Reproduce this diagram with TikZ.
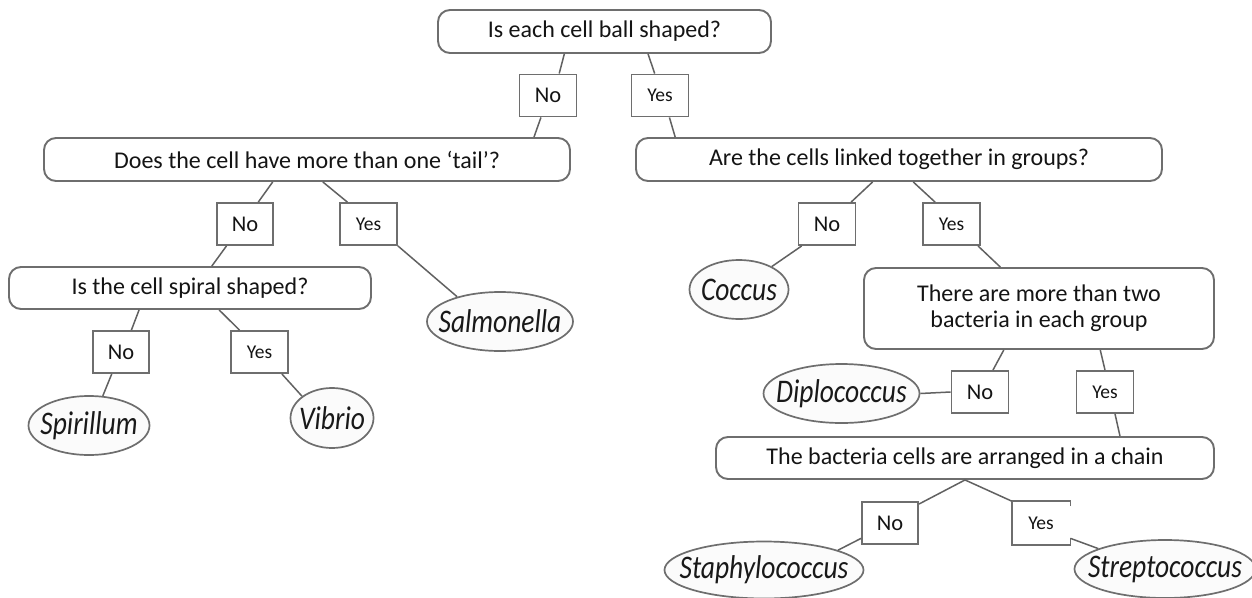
\documentclass[tikz,border=0pt]{standalone}
\usepackage{fontspec}
\setmainfont{Carlito}
\usetikzlibrary{shapes.geometric,calc}
\definecolor{edgegray}{HTML}{6E6E6E}
\definecolor{leaffill}{HTML}{FBFBFB}
\newcommand{\linkbb}[4]{\draw[conn] ($(#1.south west)!#2!(#1.south east)$) -- ($(#3.north west)!#4!(#3.north east)$);}
\newcommand{\tallit}[1]{\scalebox{1}[1.2]{#1}}
\begin{document}
\begin{tikzpicture}[x=1pt,y=-1pt,
  qbox/.style={draw=edgegray,line width=1.9pt,rounded corners=12pt,fill=white,inner sep=0pt,align=center,font=\fontsize{24}{26}\selectfont,text=black!92},
  ans/.style={draw=edgegray,line width=1.9pt,fill=white,inner sep=0pt,minimum width=57pt,minimum height=42pt,text=black!92},
  ansno/.style={ans,font=\fontsize{22.5}{24}\selectfont},
  ansyes/.style={ans,font=\fontsize{19.5}{21}\selectfont},
  leaf/.style={ellipse,draw=edgegray,line width=1.7pt,fill=leaffill,inner sep=0pt},
  leaftext/.style={inner sep=0pt,font=\fontsize{27.5}{30}\selectfont\itshape,text=black!90},
  conn/.style={draw=black!62,line width=1.5pt}]
\useasboundingbox (0,0) rectangle (1252,597);
\clip (0,0) rectangle (1252,597);
\fill[white] (0,0) rectangle (1252,597);

% question boxes
\node[qbox,minimum width=333pt,minimum height=43pt] (top) at (604.5,31.5) {Is each cell ball shaped?};
\node[qbox,minimum width=526pt,minimum height=43pt] (does) at (307,159.5) {Does the cell have more than one ‘tail’?};
\node[qbox,minimum width=526pt,minimum height=43pt] (are) at (899,159.5) {Are the cells linked together in groups?};
\node[qbox,minimum width=362pt,minimum height=42pt] (spiral) at (190,288) {Is the cell spiral shaped?};
\node[qbox,minimum width=350pt,minimum height=81pt] (groups) at (1039,308.5) {There are more than two\\bacteria in each group};
\node[qbox,minimum width=498pt,minimum height=42pt] (chain) at (965,458) {The bacteria cells are arranged in a chain};

% answer boxes
\node[ansno] (no1) at (548,95.5) {No};
\node[ansyes] (yes1) at (660,95.5) {Yes};
\node[ansno,minimum width=56pt] (no2) at (245,224) {No};
\node[ansyes] (yes2) at (368.5,224) {Yes};
\node[ansno,minimum width=56pt] (no3) at (121,352) {No};
\node[ansyes] (yes3) at (259.5,352) {Yes};
\node[ansno] (no4) at (827,224) {No};
\node[ansyes] (yes4) at (951.5,224) {Yes};
\node[ansno] (no5) at (980,392) {No};
\node[ansyes] (yes5) at (1105,392) {Yes};
\node[ansno,minimum width=56pt] (no6) at (890,523) {No};
\node[ansyes,draw=none] (yes6) at (1041,523) {Yes};
\draw[draw=edgegray,line width=1.9pt] ($(yes6.north east)+(0,5)$) -- (yes6.north east) -- (yes6.north west) -- (yes6.south west) -- (yes6.south east) -- ++(0,-7);

% leaves (ellipse drawn tight round its label)
\node[leaf,minimum width=146pt,minimum height=59pt,label={[leaftext]center:\tallit{Salmonella}}] (salm) at (500,321.5) {};
\node[leaf,minimum width=121pt,minimum height=59pt,label={[leaftext]center:\tallit{Spirillum}}] (spir) at (89,425.5) {};
\node[leaf,minimum width=83pt,minimum height=60pt,label={[leaftext]center:\tallit{Vibrio}}] (vib) at (332,418) {};
\node[leaf,minimum width=99pt,minimum height=59pt,label={[leaftext]center:\tallit{Coccus}}] (cocc) at (739,289.5) {};
\node[leaf,minimum width=156pt,minimum height=59pt,label={[leaftext]center:\tallit{Diplococcus}}] (dip) at (841.5,393.5) {};
\node[leaf,minimum width=199pt,minimum height=57pt,label={[leaftext]center:\tallit{Staphylococcus}}] (staph) at (764,570) {};
\node[leaf,minimum width=181pt,minimum height=58pt,label={[leaftext]center:\tallit{Streptococcus}}] (strep) at (1165,569) {};

% connectors
\linkbb{top}{0.38}{no1}{0.69}
\linkbb{no1}{0.38}{does}{0.93}
\linkbb{top}{0.63}{yes1}{0.41}
\linkbb{yes1}{0.66}{are}{0.076}
\linkbb{does}{0.435}{no2}{0.73}
\linkbb{no2}{0.18}{spiral}{0.56}
\linkbb{does}{0.53}{yes2}{0.14}
\draw[conn] (yes2.south east) -- (salm.150);
\linkbb{spiral}{0.36}{no3}{0.68}
\draw[conn] ($(no3.south west)!0.34!(no3.south east)$) -- (spir.65);
\linkbb{spiral}{0.58}{yes3}{0.16}
\draw[conn] ($(yes3.south west)!0.88!(yes3.south east)$) -- (vib.144);
\linkbb{are}{0.45}{no4}{0.91}
\draw[conn] ($(no4.south west)!0.07!(no4.south east)$) -- (cocc.35);
\linkbb{are}{0.527}{yes4}{0.22}
\linkbb{yes4}{0.95}{groups}{0.39}
\linkbb{groups}{0.40}{no5}{0.72}
\draw[conn] (dip.east) -- (no5.west);
\linkbb{groups}{0.674}{yes5}{0.5}
\linkbb{yes5}{0.67}{chain}{0.81}
\coordinate (chainfork) at ($(chain.south west)!0.5!(chain.south east)$);
\draw[conn] (chainfork) -- ($(no6.north east)+(0,3)$);
\draw[conn] (chainfork) -- (yes6.north west);
\draw[conn] ($(no6.south west)!0.15!(no6.north west)$) -- (staph.15);
\draw[conn] ($(yes6.south east)!0.15!(yes6.north east)$) -- (strep.163);
\end{tikzpicture}
\end{document}
